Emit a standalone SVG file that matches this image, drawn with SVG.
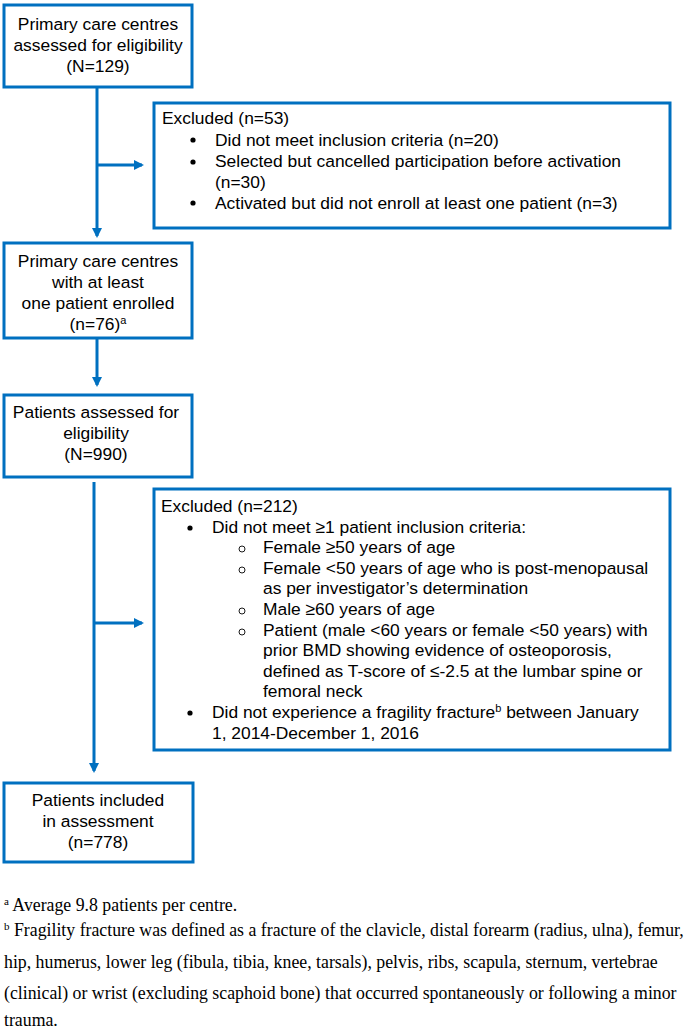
<svg xmlns="http://www.w3.org/2000/svg" width="685" height="1034" viewBox="0 0 685 1034">
<defs>
<style>
.box{fill:#fff;stroke:#0070C0;stroke-width:3}
.t{font-family:"Liberation Sans",Arial,sans-serif;font-size:17.4px;fill:#000}
.c{text-anchor:middle}
.fn{font-family:"Liberation Serif","Times New Roman",serif;font-size:17.8px;fill:#000}
.ln{stroke:#0070C0;stroke-width:3;fill:none}
</style>
<marker id="ah" markerWidth="10" markerHeight="10" refX="8" refY="5" orient="auto" markerUnits="userSpaceOnUse">
<path d="M0,0 L10,5 L0,10 Z" fill="#0070C0"/>
</marker>
</defs>
<rect width="685" height="1034" fill="#fff"/>
<g id="connectors">
<line class="ln" x1="97" y1="87" x2="97" y2="236" marker-end="url(#ah)"/>
<line class="ln" x1="97" y1="165" x2="142" y2="165" marker-end="url(#ah)"/>
<line class="ln" x1="97" y1="338" x2="97" y2="385" marker-end="url(#ah)"/>
<line class="ln" x1="94" y1="482" x2="94" y2="771" marker-end="url(#ah)"/>
<line class="ln" x1="94" y1="623" x2="142" y2="623" marker-end="url(#ah)"/>
</g>
<g id="n1">
<rect class="box" x="4" y="5" width="188" height="82"/>
<text class="t c" x="98" y="30">Primary care centres</text>
<text class="t c" x="98" y="51">assessed for eligibility</text>
<text class="t c" x="98" y="72">(N=129)</text>
</g>
<g id="ex1">
<rect class="box" x="154" y="103" width="516" height="125"/>
<text class="t" x="162" y="124">Excluded (n=53)</text>
<circle cx="193" cy="140" r="2.6"/>
<text class="t" x="215" y="146">Did not meet inclusion criteria (n=20)</text>
<circle cx="193" cy="162" r="2.6"/>
<text class="t" x="215" y="167">Selected but cancelled participation before activation</text>
<text class="t" x="215" y="188">(n=30)</text>
<circle cx="193" cy="203" r="2.6"/>
<text class="t" x="215" y="209">Activated but did not enroll at least one patient (n=3)</text>
</g>
<g id="n2">
<rect class="box" x="4" y="243" width="188" height="95"/>
<text class="t c" x="98" y="267">Primary care centres</text>
<text class="t c" x="98" y="288">with at least</text>
<text class="t c" x="98" y="309">one patient enrolled</text>
<text class="t c" x="98" y="330">(n=76)<tspan font-size="11" dy="-6">a</tspan></text>
</g>
<g id="n3">
<rect class="box" x="4" y="395" width="188" height="82"/>
<text class="t c" x="96" y="418">Patients assessed for</text>
<text class="t c" x="96" y="439">eligibility</text>
<text class="t c" x="96" y="460">(N=990)</text>
</g>
<g id="ex2">
<rect class="box" x="154" y="489" width="516" height="261"/>
<text class="t" x="161" y="512">Excluded (n=212)</text>
<circle cx="190" cy="528" r="2.6"/>
<text class="t" x="212" y="533">Did not meet ≥1 patient inclusion criteria:</text>
<circle cx="242" cy="549" r="3" fill="none" stroke="#000" stroke-width="0.9"/>
<text class="t" x="263" y="553">Female ≥50 years of age</text>
<circle cx="242" cy="570" r="3" fill="none" stroke="#000" stroke-width="0.9"/>
<text class="t" x="263" y="574">Female &lt;50 years of age who is post-menopausal</text>
<text class="t" x="263" y="594">as per investigator’s determination</text>
<circle cx="242" cy="611" r="3" fill="none" stroke="#000" stroke-width="0.9"/>
<text class="t" x="263" y="615">Male ≥60 years of age</text>
<circle cx="242" cy="632" r="3" fill="none" stroke="#000" stroke-width="0.9"/>
<text class="t" x="263" y="636">Patient (male &lt;60 years or female &lt;50 years) with</text>
<text class="t" x="263" y="656">prior BMD showing evidence of osteoporosis,</text>
<text class="t" x="263" y="677">defined as T-score of ≤-2.5 at the lumbar spine or</text>
<text class="t" x="263" y="697">femoral neck</text>
<circle cx="190" cy="713" r="2.6"/>
<text class="t" x="212" y="718">Did not experience a fragility fracture<tspan font-size="11" dy="-6">b</tspan><tspan dy="6"> between January</tspan></text>
<text class="t" x="212" y="739">1, 2014-December 1, 2016</text>
</g>
<g id="n4">
<rect class="box" x="4" y="783" width="189" height="79"/>
<text class="t c" x="98" y="806">Patients included</text>
<text class="t c" x="98" y="827">in assessment</text>
<text class="t c" x="98" y="848">(n=778)</text>
</g>
<g id="footnotes">
<text class="fn" x="4" y="911"><tspan font-size="11" dy="-6">a</tspan><tspan dy="6"> Average 9.8 patients per centre.</tspan></text>
<text class="fn" x="4" y="936"><tspan font-size="11" dy="-6">b</tspan><tspan dy="6"> Fragility fracture was defined as a fracture of the clavicle, distal forearm (radius, ulna), femur,</tspan></text>
<text class="fn" x="4" y="968">hip, humerus, lower leg (fibula, tibia, knee, tarsals), pelvis, ribs, scapula, sternum, vertebrae</text>
<text class="fn" x="4" y="999">(clinical) or wrist (excluding scaphoid bone) that occurred spontaneously or following a minor</text>
<text class="fn" x="4" y="1026">trauma.</text>
</g>
</svg>
